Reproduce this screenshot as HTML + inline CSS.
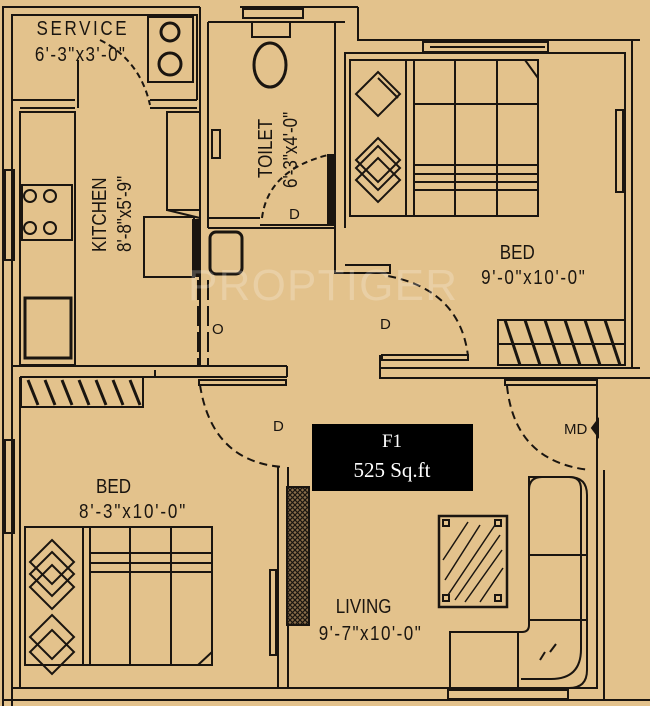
<!DOCTYPE html>
<html><head><meta charset="utf-8"><style>
html,body{margin:0;padding:0;background:#e3c28c;}
svg{display:block}
text{font-family:"Liberation Sans",sans-serif;fill:#1a1510}
</style></head><body>
<svg width="650" height="706" viewBox="0 0 650 706" xmlns="http://www.w3.org/2000/svg">
<defs>
<pattern id="xh" width="5" height="5" patternUnits="userSpaceOnUse">
<rect width="5" height="5" fill="#8a6e4a"/>
<path d="M0,0 L5,5 M5,0 L0,5" stroke="#1a1510" stroke-width="1.2"/>
</pattern>
</defs>
<rect width="650" height="706" fill="#e3c28c"/>
<g fill="none" stroke="#1a1510" stroke-width="2">
<polyline points="3,706 3,7 200,7"/>
<polyline points="12,706 12,15 197,15 197,100"/>
<line x1="240" y1="7" x2="358" y2="7"/>
<polyline points="358,7 358,40 640,40"/>
<line x1="208" y1="22" x2="335" y2="22"/>
<rect x="243" y="9" width="60" height="9" />
<line x1="12" y1="100" x2="75" y2="100"/>
<line x1="20" y1="108" x2="75" y2="108"/>
<line x1="78" y1="60" x2="78" y2="108"/>
<line x1="150" y1="108" x2="197" y2="108"/>
<line x1="150" y1="100" x2="197" y2="100"/>
<rect x="148" y="17" width="45" height="65"/>
<circle cx="170" cy="32" r="9" stroke-width="3"/>
<circle cx="170" cy="64" r="11" stroke-width="3"/>
<path d="M100,40 Q140,60 150,105" stroke-dasharray="6,4"/>
<line x1="200" y1="7" x2="200" y2="365"/>
<line x1="208" y1="22" x2="208" y2="228"/>
<rect x="20" y="112" width="55" height="253"/>
<rect x="22" y="185" width="50" height="55"/>
<circle cx="30" cy="196" r="6"/><circle cx="50" cy="196" r="6"/>
<circle cx="30" cy="228" r="6"/><circle cx="50" cy="228" r="6"/>
<rect x="25" y="298" width="46" height="60" stroke-width="3"/>
<rect x="5" y="170" width="9" height="90"/>
<rect x="167" y="112" width="33" height="98"/>
<line x1="167" y1="210" x2="200" y2="218"/>
<rect x="144" y="217" width="50" height="60"/>
<rect x="193" y="220" width="6" height="56" fill="#1a1510"/>
<line x1="198" y1="280" x2="198" y2="365" stroke-dasharray="20,6"/>
<line x1="208" y1="280" x2="208" y2="365" stroke-dasharray="20,6"/>
<line x1="335" y1="22" x2="335" y2="228"/>
<line x1="208" y1="218" x2="260" y2="218"/>
<line x1="208" y1="228" x2="335" y2="228"/>
<line x1="260" y1="225" x2="335" y2="225"/>
<ellipse cx="270" cy="65" rx="16" ry="22" stroke-width="3"/>
<rect x="252" y="22" width="38" height="15"/>
<rect x="212" y="130" width="8" height="28"/>
<rect x="210" y="232" width="32" height="42" rx="6" stroke-width="3"/>
<path d="M262,218 Q268,170 328,155" stroke-dasharray="6,4"/>
<rect x="328" y="155" width="5" height="70" fill="#1a1510"/>
<polyline points="335,22 345,22"/>
<polyline points="345,228 345,53 625,53 625,365"/>
<polyline points="335,228 335,273 390,273 390,265 345,265"/>
<line x1="632" y1="40" x2="632" y2="368"/>
<rect x="423" y="42" width="125" height="10"/>
<line x1="430" y1="47" x2="545" y2="47"/>
<rect x="616" y="110" width="7" height="82"/>
<rect x="350" y="60" width="188" height="156"/>
<line x1="406" y1="60" x2="406" y2="216"/><line x1="414" y1="60" x2="414" y2="216"/>
<line x1="455" y1="60" x2="455" y2="216"/><line x1="497" y1="60" x2="497" y2="216"/>
<line x1="414" y1="104" x2="538" y2="104"/>
<line x1="414" y1="165" x2="538" y2="165"/><line x1="414" y1="174" x2="538" y2="174"/>
<line x1="414" y1="182" x2="538" y2="182"/><line x1="414" y1="190" x2="538" y2="190"/>
<line x1="525" y1="60" x2="538" y2="78"/>
<path d="M378,72 l22,22 -22,22 -22,-22z M378,78 l20,20"/>
<path d="M378,138 l22,22 -22,22 -22,-22z M378,146 l22,22 -22,22 -22,-22z M378,158 l22,22 -22,22 -22,-22z"/>
<rect x="498" y="320" width="127" height="45"/>
<line x1="498" y1="344" x2="625" y2="344"/>
<g stroke-width="3"><line x1="505" y1="320" x2="520" y2="365"/><line x1="525" y1="320" x2="540" y2="365"/><line x1="545" y1="320" x2="560" y2="365"/><line x1="565" y1="320" x2="580" y2="365"/><line x1="585" y1="320" x2="600" y2="365"/><line x1="605" y1="320" x2="620" y2="365"/></g>
<path d="M388,276 Q460,290 468,356" stroke-dasharray="8,5"/>
<rect x="382" y="355" width="86" height="5"/>
<polyline points="380,368 640,368"/>
<polyline points="380,355 380,378 650,378"/>
<line x1="12" y1="366" x2="287" y2="366"/>
<line x1="20" y1="377" x2="287" y2="377"/>
<line x1="287" y1="366" x2="287" y2="377"/>
<rect x="21" y="377" width="122" height="30"/>
<g stroke-width="3"><line x1="28" y1="380" x2="38" y2="405"/><line x1="45" y1="380" x2="55" y2="405"/><line x1="62" y1="380" x2="72" y2="405"/><line x1="79" y1="380" x2="89" y2="405"/><line x1="96" y1="380" x2="106" y2="405"/><line x1="113" y1="380" x2="123" y2="405"/><line x1="130" y1="380" x2="140" y2="405"/></g>
<polyline points="143,377 155,377 155,370"/>
<line x1="20" y1="377" x2="20" y2="688"/>
<rect x="5" y="440" width="9" height="93"/>
<path d="M200,385 Q212,462 283,467" stroke-dasharray="8,5"/>
<rect x="199" y="380" width="87" height="5"/>
<line x1="278" y1="467" x2="278" y2="688"/>
<line x1="288" y1="467" x2="288" y2="688"/>
<rect x="270" y="570" width="6" height="85"/>
<rect x="287" y="487" width="22" height="138" fill="url(#xh)"/>
<rect x="25" y="527" width="187" height="138"/>
<line x1="83" y1="527" x2="83" y2="665"/><line x1="90" y1="527" x2="90" y2="665"/>
<line x1="130" y1="527" x2="130" y2="665"/><line x1="171" y1="527" x2="171" y2="665"/>
<line x1="90" y1="553" x2="212" y2="553"/><line x1="90" y1="563" x2="212" y2="563"/><line x1="90" y1="572" x2="212" y2="572"/>
<line x1="198" y1="665" x2="212" y2="652"/>
<path d="M52,540 l22,22 -22,22 -22,-22z M52,552 l22,22 -22,22 -22,-22z M52,565 l22,22 -22,22 -22,-22z"/>
<path d="M52,615 l22,22 -22,22 -22,-22z M52,630 l22,22 -22,22 -22,-22z"/>
<line x1="12" y1="688" x2="598" y2="688"/>
<line x1="3" y1="700" x2="650" y2="700"/>
<line x1="597" y1="380" x2="597" y2="688"/>
<line x1="604" y1="470" x2="604" y2="700"/>
<path d="M507,386 Q515,462 590,470" stroke-dasharray="8,5"/>
<rect x="505" y="380" width="92" height="5"/>
<path d="M598,420 l-6,8 6,8z" fill="#1a1510"/>
<rect x="448" y="690" width="120" height="9"/>
<path d="M529,477 h40 q18,0 18,18 v175 q0,18 -18,18 h-119 v-56 h72 q7,0 7,-7z"/>
<path d="M529,490 q0,-13 13,-13 h27 q12,0 12,12 v160 q0,30 -30,30 h-30"/>
<line x1="529" y1="555" x2="587" y2="555"/><line x1="529" y1="620" x2="587" y2="620"/>
<line x1="518" y1="632" x2="518" y2="688"/>
<rect x="439" y="516" width="68" height="91" stroke-width="2.5"/>
<g stroke-width="1.5"><line x1="445" y1="580" x2="480" y2="525"/><line x1="448" y1="595" x2="495" y2="525"/><line x1="455" y1="600" x2="500" y2="535"/><line x1="465" y1="602" x2="502" y2="550"/><line x1="480" y1="602" x2="503" y2="568"/><line x1="443" y1="560" x2="468" y2="522"/></g>
<rect x="443" y="520" width="6" height="6"/><rect x="495" y="520" width="6" height="6"/><rect x="443" y="595" width="6" height="6"/><rect x="495" y="595" width="6" height="6"/>
<line x1="540" y1="660" x2="545" y2="652"/>
<line x1="550" y1="652" x2="556" y2="644"/>
</g>
<rect x="312" y="424" width="161" height="67" fill="#000"/>
<text x="392" y="447" text-anchor="middle" style="font-family:'Liberation Serif',serif;fill:#fff;font-size:19px">F1</text>
<text x="392" y="477" text-anchor="middle" style="font-family:'Liberation Serif',serif;fill:#fff;font-size:21px">525 Sq.ft</text>
<g font-size="20" transform="scale(0.85,1)">
<text x="43" y="35" textLength="106">SERVICE</text>
<text x="41" y="61" textLength="106">6'-3"x3'-0"</text>
<text x="588" y="259">BED</text>
<text x="566" y="284" textLength="122">9'-0"x10'-0"</text>
<text x="113" y="493">BED</text>
<text x="93" y="518" textLength="125">8'-3"x10'-0"</text>
<text x="395" y="613">LIVING</text>
<text x="375" y="640" textLength="120">9'-7"x10'-0"</text>
</g>
<g font-size="20">
<text transform="translate(106,252) rotate(-90) scale(0.85,1)">KITCHEN</text>
<text transform="translate(131,252) rotate(-90) scale(0.85,1)">8'-8"x5'-9"</text>
<text transform="translate(272,178) rotate(-90) scale(0.85,1)">TOILET</text>
<text transform="translate(297,188) rotate(-90) scale(0.85,1)">6'-3"x4'-0"</text>
</g>
<g font-size="15">
<text x="289" y="219">D</text>
<text x="380" y="329">D</text>
<text x="273" y="431">D</text>
<text x="212" y="334">O</text>
<text x="564" y="434">MD</text>
</g>
<text x="188" y="300" style="font-size:44px;fill:rgba(255,255,255,0.22);letter-spacing:1px" textLength="270">PROPTIGER</text>
</svg>
</body></html>
